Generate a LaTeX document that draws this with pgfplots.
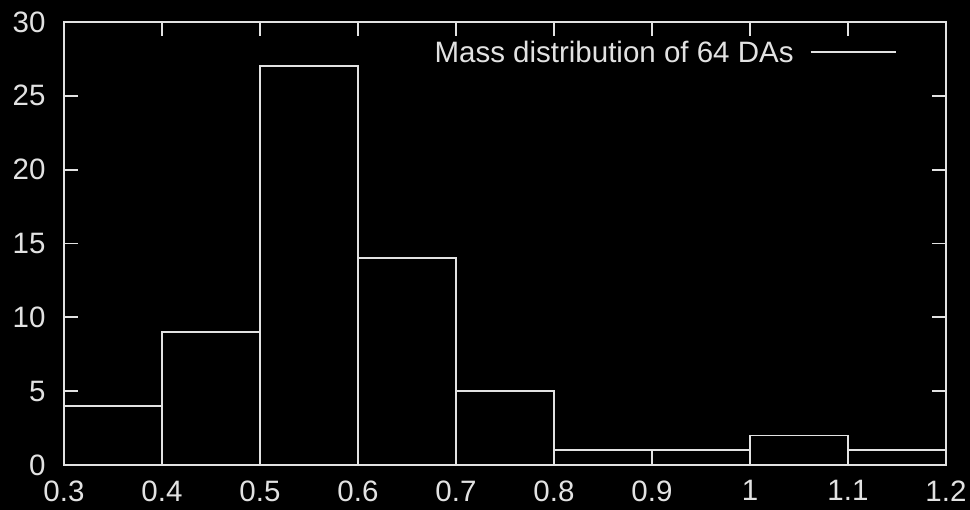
\documentclass[border=0pt]{standalone}
\usepackage{fontspec}
\setmainfont{Liberation Sans}
\usepackage{pgfplots}
\pgfplotsset{compat=1.18}

\definecolor{fg}{RGB}{226,226,226}

\begin{document}
\begin{tikzpicture}[x=1pt,y=1pt]
  % black canvas
  \fill[black] (0,0) rectangle (970,510);
  \begin{axis}[
    at={(64pt,45pt)}, anchor=south west,
    scale only axis, width=882pt, height=443pt,
    xmin=0.3, xmax=1.2, ymin=0, ymax=30,
    xtick={0.3,0.4,0.5,0.6,0.7,0.8,0.9,1,1.1,1.2},
    ytick={0,5,10,15,20,25,30},
    tick align=inside,
    major tick length=14pt,
    axis line style={fg, line width=1.8pt},
    every tick/.style={fg, line width=1.8pt},
    tick label style={font=\fontsize{29.5}{34}\selectfont, text=fg},
    xticklabel style={yshift=-12pt},
    yticklabel style={xshift=-15pt},
    /pgf/number format/assume math mode=true,
    legend plot pos=right,
    legend style={draw=none, fill=none, at={(0.944,0.932)}, anchor=east,
      font=\fontsize{29.5}{34}\selectfont, text=fg, inner sep=0pt,
      column sep=14pt},
  ]
    \addplot[ybar interval, draw=fg, fill=none, line width=1.8pt,
      legend image code/.code={\draw[fg, line width=1.8pt] (0pt,0pt) -- (85pt,0pt);}]
      coordinates {
        (0.3,4) (0.4,9) (0.5,27) (0.6,14) (0.7,5)
        (0.8,1) (0.9,1) (1.0,2) (1.1,1) (1.2,1)
      };
    \addlegendentry{Mass distribution of 64 DAs}
  \end{axis}
\end{tikzpicture}
\end{document}
